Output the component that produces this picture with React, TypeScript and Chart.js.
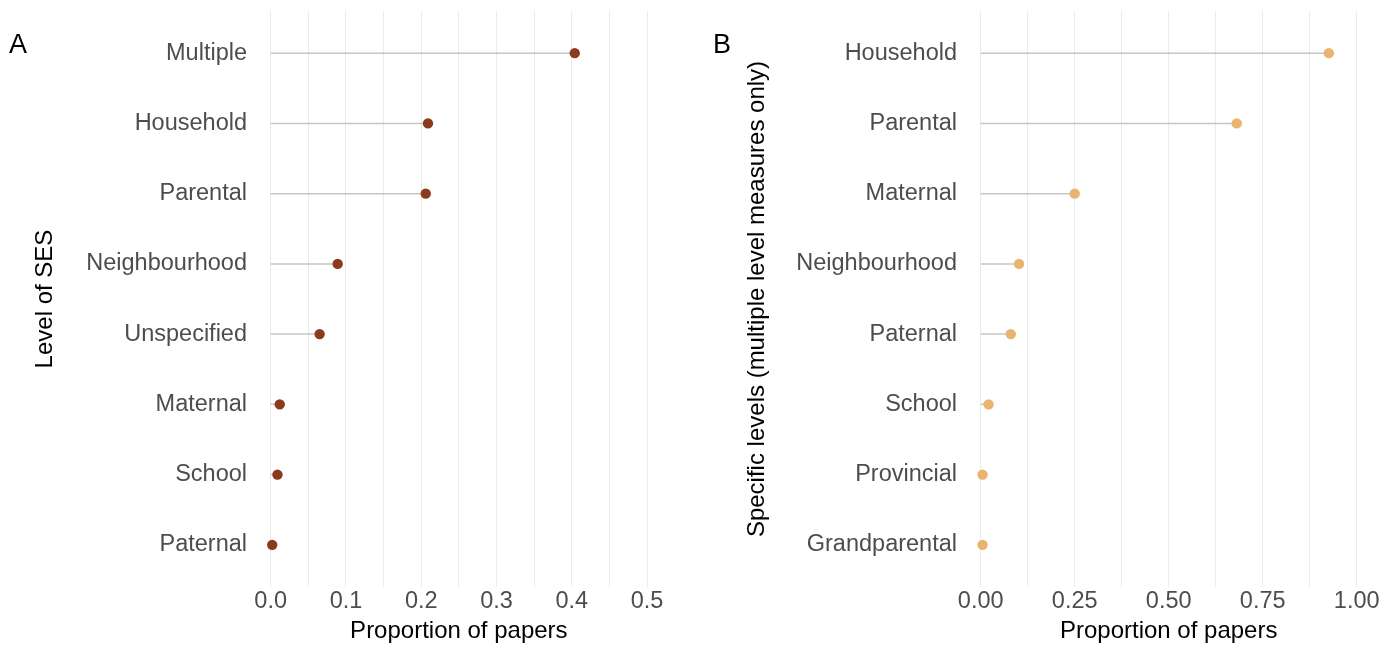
import React, { useEffect, useRef } from 'react';
import { Chart, registerables } from 'chart.js';

Chart.register(...registerables);

const levelsA = ['Multiple', 'Household', 'Parental', 'Neighbourhood', 'Unspecified', 'Maternal', 'School', 'Paternal'];
const valuesA = [0.404, 0.209, 0.206, 0.089, 0.065, 0.012, 0.009, 0.002];

const levelsB = ['Household', 'Parental', 'Maternal', 'Neighbourhood', 'Paternal', 'School', 'Provincial', 'Grandparental'];
const valuesB = [0.926, 0.681, 0.25, 0.102, 0.08, 0.021, 0.005, 0.005];

const gridA = [0, 0.05, 0.1, 0.15, 0.2, 0.25, 0.3, 0.35, 0.4, 0.45, 0.5];
const tickLabelsA = ['0.0', '0.1', '0.2', '0.3', '0.4', '0.5'];

const gridB = [0, 0.125, 0.25, 0.375, 0.5, 0.625, 0.75, 0.875, 1];
const tickLabelsB = ['0.00', '0.25', '0.50', '0.75', '1.00'];

const FONT = "'Liberation Sans', Arial, sans-serif";

interface PanelCfg {
  levels: string[];
  values: number[];
  color: string;
  grid: number[];
  labels: string[];
  xMax: number;
  yTitle: string;
  yAxisWidth: number;
  rightPad: number;
  titleCenterX: number;
}

function buildChart(canvas: HTMLCanvasElement, cfg: PanelCfg) {
  const segData: any[] = [];
  cfg.values.forEach((v, i) => {
    segData.push({ x: 0, y: i });
    segData.push({ x: v, y: i });
    segData.push({ x: null, y: null });
  });
  const dotData = cfg.values.map((v, i) => ({ x: v, y: i }));

  return new Chart(canvas, {
    type: 'scatter',
    data: {
      datasets: [
        {
          data: dotData,
          pointRadius: 5.2,
          pointHoverRadius: 5.2,
          pointBackgroundColor: cfg.color,
          pointBorderColor: cfg.color,
          pointBorderWidth: 0,
          showLine: false,
          clip: false as any,
          order: 0,
        },
        {
          data: segData,
          showLine: true,
          spanGaps: false,
          borderColor: '#c6c6c6',
          borderWidth: 1.5,
          pointRadius: 0,
          pointHoverRadius: 0,
          clip: false as any,
          order: 1,
        },
      ],
    },
    options: {
      animation: false,
      responsive: false,
      devicePixelRatio: 1,
      events: [],
      layout: { padding: { top: 11, right: cfg.rightPad, left: 0, bottom: 0 } },
      plugins: { legend: { display: false }, tooltip: { enabled: false } },
      scales: {
        x: {
          type: 'linear',
          min: 0,
          max: cfg.xMax,
          afterBuildTicks: (s: any) => {
            s.ticks = cfg.grid.map((v) => ({ value: v }));
          },
          afterFit: (s: any) => {
            s.height = 62;
            s.paddingLeft = 0;
            s.paddingRight = 0;
            s.paddingTop = 0;
            s.paddingBottom = 0;
          },
          grid: { color: '#ebebeb', lineWidth: 1, drawTicks: false },
          border: { display: false },
          ticks: {
            autoSkip: false,
            maxRotation: 0,
            padding: 3,
            color: '#4d4d4d',
            font: { family: FONT, size: 23.5, lineHeight: 1 },
            callback: (_v: any, i: number) => (i % 2 === 0 ? cfg.labels[i / 2] : ''),
          },
          title: {
            display: true,
            text: 'Proportion of papers',
            color: '#000000',
            font: { family: FONT, size: 24, lineHeight: 1 },
            padding: { top: 0, bottom: 6 },
          },
        },
        y: {
          type: 'linear',
          reverse: true,
          min: -0.6,
          max: cfg.levels.length - 1 + 0.6,
          afterBuildTicks: (s: any) => {
            s.ticks = cfg.levels.map((_l, i) => ({ value: i }));
          },
          afterFit: (s: any) => {
            s.width = cfg.yAxisWidth;
            s.paddingTop = 0;
            s.paddingBottom = 0;
            s.paddingLeft = 0;
            s.paddingRight = 0;
          },
          grid: { display: false, drawTicks: false },
          border: { display: false },
          ticks: {
            autoSkip: false,
            padding: 23.7,
            color: '#4d4d4d',
            font: { family: FONT, size: 23.5, lineHeight: 1 },
            callback: (v: any) => cfg.levels[Math.round(Number(v))] ?? '',
          },
          title: {
            display: true,
            text: cfg.yTitle,
            color: '#000000',
            font: { family: FONT, size: 24, lineHeight: 1 },
            padding: { top: cfg.titleCenterX - 12, bottom: 0 },
          },
        },
      },
    },
  } as any);
}

function Panel({ cfg, left, width }: { cfg: PanelCfg; left: number; width: number }) {
  const ref = useRef<HTMLCanvasElement | null>(null);
  useEffect(() => {
    if (!ref.current) return;
    const chart = buildChart(ref.current, cfg);
    return () => chart.destroy();
  }, []);
  return (
    <div style={{ position: 'absolute', left, top: 0, width, height: 649 }}>
      <canvas ref={ref} width={width} height={649} style={{ display: 'block', width, height: 649 }} />
    </div>
  );
}

const cfgA: PanelCfg = {
  levels: levelsA,
  values: valuesA,
  color: '#8b3a1e',
  grid: gridA,
  labels: tickLabelsA,
  xMax: 0.5,
  yTitle: 'Level of SES',
  yAxisWidth: 270.7,
  rightPad: 700 - 647,
  titleCenterX: 45,
};

const cfgB: PanelCfg = {
  levels: levelsB,
  values: valuesB,
  color: '#e9b46f',
  grid: gridB,
  labels: tickLabelsB,
  xMax: 1,
  yTitle: 'Specific levels (multiple level measures only)',
  yAxisWidth: 280.7,
  rightPad: 695 - 656.7,
  titleCenterX: 57,
};

export default function App() {
  const tagStyle: React.CSSProperties = {
    position: 'absolute',
    top: 31,
    fontFamily: "'Liberation Sans', Arial, sans-serif",
    fontSize: 27,
    lineHeight: '27px',
    color: '#000',
  };
  return (
    <div style={{ position: 'absolute', left: 0, top: 0, width: 1395, height: 649, background: '#fff', overflow: 'hidden' }}>
      <Panel cfg={cfgA} left={0} width={700} />
      <Panel cfg={cfgB} left={700} width={695} />
      <div style={{ ...tagStyle, left: 9 }}>A</div>
      <div style={{ ...tagStyle, left: 713 }}>B</div>
    </div>
  );
}
